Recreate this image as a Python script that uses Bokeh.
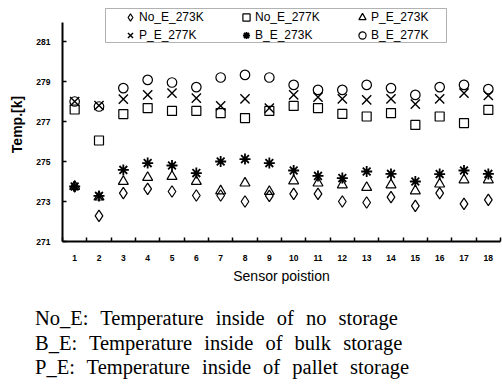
from bokeh.plotting import figure
from bokeh.models import Legend, LegendItem, FixedTicker, Div, BoxAnnotation
from bokeh.layouts import column
from bokeh.embed import file_html
from bokeh.resources import INLINE

# ---- data ----
positions = list(range(1, 19))
no_e_273 = [273.75, 272.28, 273.42, 273.63, 273.50, 273.30, 273.30, 273.00, 273.28,
            273.38, 273.38, 273.00, 272.95, 273.22, 272.78, 273.42, 272.88, 273.08]
no_e_277 = [277.60, 276.05, 277.37, 277.67, 277.53, 277.53, 277.42, 277.17, 277.53,
            277.78, 277.67, 277.38, 277.25, 277.42, 276.83, 277.25, 276.92, 277.58]
p_e_273 = [273.75, 273.22, 274.00, 274.20, 274.25, 274.00, 273.53, 273.92, 273.50,
           274.03, 273.92, 273.83, 273.70, 273.83, 273.53, 273.87, 274.08, 274.08]
p_e_277 = [278.00, 277.80, 278.12, 278.33, 278.42, 278.17, 277.78, 278.13, 277.67,
           278.33, 278.22, 278.13, 278.08, 278.13, 277.87, 278.13, 278.42, 278.30]
b_e_273 = [273.75, 273.28, 274.58, 274.92, 274.80, 274.42, 275.00, 275.12, 274.92,
           274.55, 274.28, 274.17, 274.50, 274.38, 274.00, 274.37, 274.55, 274.38]
b_e_277 = [278.00, 277.75, 278.67, 279.08, 278.95, 278.72, 279.20, 279.33, 279.20,
           278.83, 278.58, 278.58, 278.83, 278.67, 278.33, 278.72, 278.83, 278.62]

series_names = ["No_E_273K", "No_E_277K", "P_E_273K", "P_E_277K", "B_E_273K", "B_E_277K"]
y_ticks = [271, 273, 275, 277, 279, 281]
notes = ["No_E: Temperature inside of no storage",
         "B_E: Temperature inside of bulk storage",
         "P_E: Temperature inside of pallet storage"]

SANS = "Liberation Sans"
SERIF = "Liberation Serif"

p = figure(width=502, height=290, output_backend="svg", toolbar_location=None,
           x_range=(0.5, 18.5), y_range=(271, 282.7),
           min_border_left=62, min_border_right=2, min_border_top=7,
           min_border_bottom=49)
p.outline_line_color = None
p.grid.visible = False
p.background_fill_color = "white"

styles = [
    (no_e_273, "diamond", 11.5, 1.2),
    (no_e_277, "square", 9, 1.2),
    (p_e_273, "triangle", 10, 1.2),
    (p_e_277, "x", 13, 1.4),
    (b_e_273, "asterisk", 11, 1.8),
    (b_e_277, "circle", 9.5, 1.2),
]
renderers = []
for vals, marker, size, lw in styles:
    r = p.scatter(positions, vals, marker=marker, size=size,
                  line_color="black", fill_color=None, line_width=lw)
    renderers.append(r)

# x axis
xa = p.xaxis[0]
xa.ticker = FixedTicker(ticks=positions, minor_ticks=[i + 0.5 for i in range(0, 19)])
xa.major_tick_in = 0
xa.major_tick_out = 0
xa.minor_tick_in = 4
xa.minor_tick_out = 0
xa.minor_tick_line_color = "black"
xa.minor_tick_line_width = 1.5
xa.axis_line_color = "black"
xa.axis_line_width = 1.8
xa.major_label_text_font = SANS
xa.major_label_text_font_style = "bold"
xa.major_label_text_font_size = "8.5px"
xa.major_label_text_color = "black"
xa.major_label_standoff = 13
xa.axis_label = "Sensor poistion"
xa.axis_label_text_font = SANS
xa.axis_label_text_font_style = "normal"
xa.axis_label_text_font_size = "14px"
xa.axis_label_text_color = "black"
xa.axis_label_standoff = 4

# y axis
ya = p.yaxis[0]
ya.bounds = (271, 281.95)
ya.ticker = FixedTicker(ticks=y_ticks, minor_ticks=[])
ya.major_tick_in = 4
ya.major_tick_out = 0
ya.major_tick_line_width = 1.5
ya.minor_tick_in = 0
ya.minor_tick_out = 0
ya.axis_line_color = "black"
ya.axis_line_width = 2
ya.major_label_text_font = SANS
ya.major_label_text_font_style = "bold"
ya.major_label_text_font_size = "8.5px"
ya.major_label_text_color = "black"
ya.major_label_standoff = 12
ya.axis_label = "Temp.[k]"
ya.axis_label_text_font = SANS
ya.axis_label_text_font_style = "bold"
ya.axis_label_text_font_size = "14px"
ya.axis_label_text_color = "black"
ya.axis_label_standoff = 8

# legend frame (screen units relative to the plot frame)
legend_box = BoxAnnotation(left=43, right=384, bottom=199, top=233,
                           left_units="screen", right_units="screen",
                           bottom_units="screen", top_units="screen",
                           fill_color="white", fill_alpha=1,
                           line_color="black", line_width=1)
p.add_layout(legend_box)

items = [LegendItem(label=n, renderers=[r]) for n, r in zip(series_names, renderers)]
legend = Legend(items=items, location=(59, 197), orientation="horizontal", ncols=3,
                glyph_width=18, glyph_height=18, label_standoff=0, label_width=98,
                label_height=18, spacing=0, padding=1, margin=0,
                label_text_font=SANS, label_text_font_size="12px",
                label_text_color="black",
                border_line_color=None, background_fill_alpha=0)
p.add_layout(legend, "center")

# notes below the chart
notes_div = Div(text="<br>".join(notes), margin=(16, 0, 0, 35),
                styles={"font-family": SERIF, "font-size": "20.5px",
                        "line-height": "24.5px", "word-spacing": "7px",
                        "color": "black", "white-space": "nowrap"})

layout = column(p, notes_div, spacing=0)
open("out.html", "w").write(file_html(layout, INLINE))
